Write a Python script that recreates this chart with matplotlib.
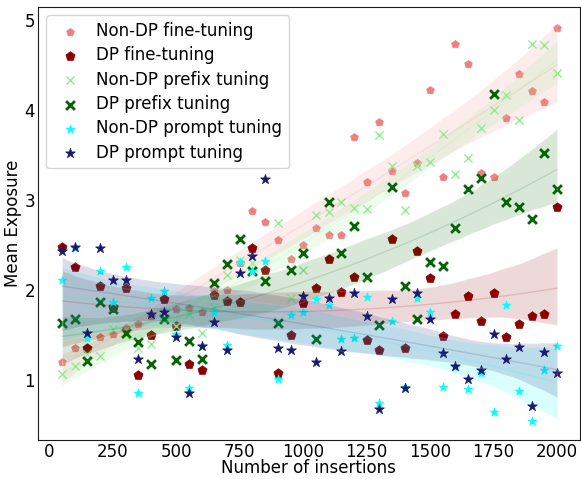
import numpy as np
import matplotlib.pyplot as plt
import seaborn as sns

# --- data ---
insertions = np.arange(50, 2001, 50)

non_dp_fine = [1.20, 1.36, 1.36, 1.48, 1.52, 1.58, 1.63, 1.71, 1.90, 1.79,
               1.80, 1.76, 1.99, 2.00, 2.30, 2.88, 2.76, 2.56, 2.35, 2.50,
               2.69, 2.61, 2.61, 3.70, 3.20, 3.87, 3.33, 3.08, 3.41, 4.23,
               3.26, 4.74, 4.52, 3.30, 3.26, 3.92, 4.40, 4.21, 4.09, 4.92]
dp_fine = [2.48, 2.26, 1.36, 2.05, 1.80, 2.03, 1.06, 1.50, 1.90, 1.60,
           1.18, 1.12, 1.95, 1.88, 1.87, 2.47, 2.23, 1.08, 1.50, 1.86,
           2.03, 2.35, 1.98, 2.15, 1.45, 1.34, 2.57, 1.36, 2.44, 2.14,
           1.49, 1.74, 1.94, 1.66, 1.97, 1.48, 1.63, 1.71, 1.74, 2.93]
non_dp_prefix = [1.07, 1.16, 1.29, 1.27, 1.57, 1.50, 1.36, 1.40, 1.68, 1.60,
                 1.74, 1.53, 1.81, 2.17, 2.34, 2.30, 2.10, 2.75, 1.91, 2.23,
                 2.84, 2.87, 2.98, 2.92, 2.90, 3.73, 3.38, 2.89, 3.38, 3.43,
                 3.74, 3.29, 3.47, 3.80, 4.00, 4.17, 3.89, 4.74, 4.73, 4.41]
dp_prefix = [1.64, 1.68, 1.21, 1.87, 1.79, 1.53, 1.43, 1.18, 1.68, 1.23,
             1.44, 1.24, 2.08, 2.29, 2.57, 2.21, 2.10, 1.64, 2.23, 2.42,
             1.46, 2.98, 2.42, 2.72, 2.15, 1.62, 3.15, 2.05, 1.68, 2.31,
             2.27, 2.69, 3.13, 3.25, 4.18, 2.98, 2.93, 2.79, 3.53, 3.13]
non_dp_prompt = [2.11, 2.47, 1.47, 2.21, 1.87, 2.26, 0.86, 1.92, 1.99, 1.52,
                 0.91, 1.38, 1.76, 1.39, 2.31, 2.22, 2.33, 1.01, 1.73, 1.76,
                 1.90, 1.84, 1.46, 1.47, 1.93, 0.75, 1.66, 0.93, 1.92, 1.76,
                 0.93, 1.15, 0.90, 1.08, 0.65, 1.84, 0.88, 0.55, 1.11, 1.38]
dp_prompt = [2.44, 2.48, 1.53, 2.47, 2.11, 2.11, 1.24, 1.74, 1.76, 1.48,
             0.86, 1.38, 1.65, 1.34, 2.19, 2.38, 3.24, 1.36, 1.34, 1.94,
             1.20, 1.91, 1.33, 1.97, 1.71, 0.68, 1.90, 0.92, 1.97, 1.68,
             1.30, 1.16, 1.01, 1.11, 1.52, 1.24, 1.37, 0.71, 1.31, 1.08]

labels = ['Non-DP fine-tuning', 'DP fine-tuning', 'Non-DP prefix tuning',
          'DP prefix tuning', 'Non-DP prompt tuning', 'DP prompt tuning']
colors = ['lightcoral', 'darkred', 'lightgreen', 'darkgreen', 'cyan', 'midnightblue']
markers = ['p', 'p', 'x', 'x', '*', '*']
sizes = [34, 48, 34, 40, 42, 55]
edge_widths = [0.5, 0.5, 1.0, 2.0, 0.5, 0.5]

sns.set_style('white')
plt.rcParams['font.family'] = ['DejaVu Sans']
plt.rcParams['text.color'] = 'black'
plt.rcParams['axes.labelcolor'] = 'black'
plt.rcParams['xtick.color'] = 'black'
plt.rcParams['ytick.color'] = 'black'

fig = plt.figure(figsize=(5.81, 4.79), dpi=100)
ax = fig.add_axes([0.0654, 0.0814, 0.9326, 0.904])

all_series = [non_dp_fine, dp_fine, non_dp_prefix, dp_prefix, non_dp_prompt, dp_prompt]
for values, label, color, marker, size, lw in zip(all_series, labels, colors, markers, sizes, edge_widths):
    sns.regplot(x=insertions, y=np.array(values), ax=ax, color=color, marker=marker,
                label=label, order=2, seed=0,
                scatter_kws={'s': size, 'linewidths': lw, 'alpha': 1},
                line_kws={'lw': 1, 'alpha': 0.15})

ax.set_xlim(-45, 2090)
ax.set_ylim(0.337, 5.148)
ax.set_xticks(np.arange(0, 2001, 250))
ax.set_yticks([1, 2, 3, 4, 5])
ax.tick_params(labelsize=12, length=0, pad=2)
ax.set_xlabel('Number of insertions', fontsize=12, labelpad=-1)
ax.set_ylabel('Mean Exposure', fontsize=12, labelpad=2)
for spine in ax.spines.values():
    spine.set_color('0.1')

ax.legend(loc='upper left', fontsize=12, labelspacing=0.38,
          borderaxespad=0.5, handletextpad=0.6)

fig.savefig('out.png', dpi=100)
